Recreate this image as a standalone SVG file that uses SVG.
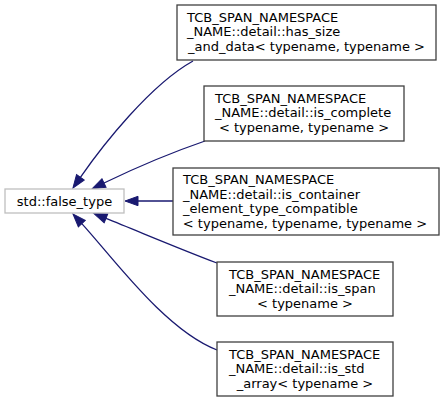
<svg xmlns="http://www.w3.org/2000/svg" width="444" height="403" viewBox="0 0 444 403">
<style>
text{font-family:"DejaVu Sans","Liberation Sans",sans-serif;font-size:13px;fill:#000}
.n{fill:#fff;stroke:#404040;stroke-width:1.3}
.g{fill:#fff;stroke:#bfbfbf;stroke-width:1.3}
.e{fill:none;stroke:#191970;stroke-width:1.3;marker-end:url(#ah)}
.m{text-anchor:middle}
</style>
<defs>
<marker id="ah" markerUnits="userSpaceOnUse" markerWidth="16" markerHeight="12" viewBox="0 -6 14 12" refX="0" refY="0" orient="auto">
<path d="M0,-4.7 L13,0 L0,4.7 z" fill="#191970" stroke="#191970"/>
</marker>
</defs>
<rect width="444" height="403" fill="#fff"/>
<g id="connectors">
<path class="e" d="M193,61 C150,85 103,145 80.4,177.3"/>
<path class="e" d="M205,141 C170,153 135,168 104,183"/>
<path class="e" d="M173,201 L138,201"/>
<path class="e" d="M217,263 C180,249 140,232 106,218.4"/>
<path class="e" d="M217,350 C165,330 112.6,257.2 81.8,223.6"/>
</g>
<g id="false_type">
<rect class="g" x="5" y="189" width="119" height="24"/>
<text class="m" x="64.5" y="205.5">std::false_type</text>
</g>
<g id="has_size_and_data">
<rect class="n" x="177" y="5" width="259" height="55"/>
<text x="187" y="21.5">TCB_SPAN_NAMESPACE</text>
<text x="187" y="36">_NAME::detail::has_size</text>
<text class="m" x="306.5" y="50.5">_and_data&lt; typename, typename &gt;</text>
</g>
<g id="is_complete">
<rect class="n" x="204" y="86" width="200" height="55"/>
<text x="215" y="102.5">TCB_SPAN_NAMESPACE</text>
<text x="215" y="117">_NAME::detail::is_complete</text>
<text class="m" x="304" y="131.5">&lt; typename, typename &gt;</text>
</g>
<g id="is_container_element_type_compatible">
<rect class="n" x="173" y="168" width="266" height="67"/>
<text x="183" y="184">TCB_SPAN_NAMESPACE</text>
<text x="183" y="198.5">_NAME::detail::is_container</text>
<text x="183" y="213">_element_type_compatible</text>
<text class="m" x="305" y="227.5">&lt; typename, typename, typename &gt;</text>
</g>
<g id="is_span">
<rect class="n" x="217" y="262" width="176" height="54"/>
<text x="229" y="278.5">TCB_SPAN_NAMESPACE</text>
<text x="229" y="293">_NAME::detail::is_span</text>
<text class="m" x="305" y="307.5">&lt; typename &gt;</text>
</g>
<g id="is_std_array">
<rect class="n" x="217" y="342" width="176" height="54"/>
<text x="229" y="358.5">TCB_SPAN_NAMESPACE</text>
<text x="229" y="373">_NAME::detail::is_std</text>
<text class="m" x="305" y="387.5">_array&lt; typename &gt;</text>
</g>
</svg>
